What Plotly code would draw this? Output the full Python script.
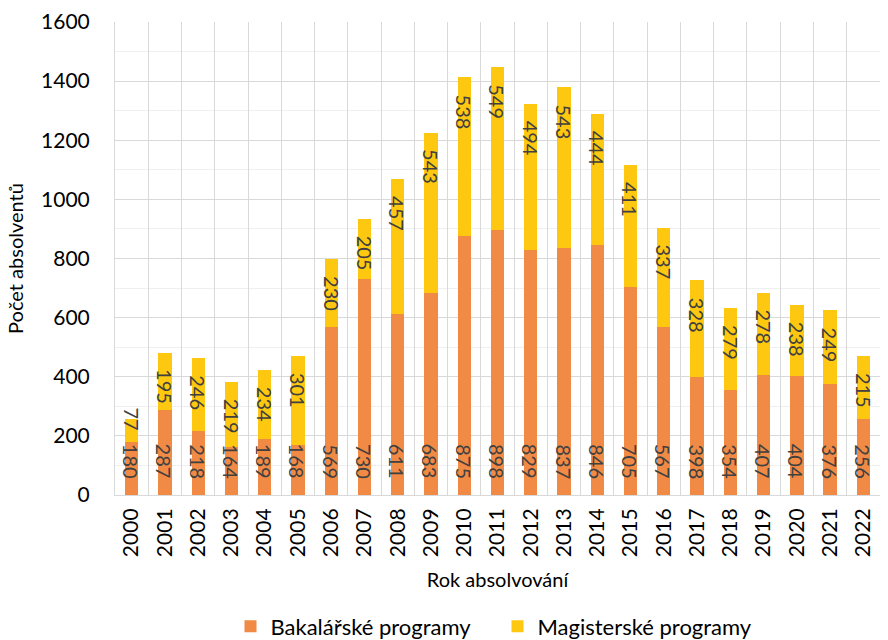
import plotly.graph_objects as go

years = [str(y) for y in range(2000, 2023)]
bakalarske = [180, 287, 218, 164, 189, 168, 569, 730, 611, 683, 875, 898,
              829, 837, 846, 705, 567, 398, 354, 407, 404, 376, 256]
magisterske = [77, 195, 246, 219, 234, 301, 230, 205, 457, 543, 538, 549,
               494, 543, 444, 411, 337, 328, 279, 278, 238, 249, 215]

FONT = "Lato"
TXT = "#404040"
LABEL_SIZE = 20
Y_MAX = 1600
PLOT_H = 640 - 22 - 145          # plot area height in px
PAD_BASE = 14                     # gap between bar base and lower label, px
PAD_END = 15                      # gap between bar end and upper label, px

fig = go.Figure()
fig.add_trace(go.Bar(
    x=years, y=bakalarske, name="Bakalářské programy",
    marker=dict(color="#F08A45", line=dict(width=0)),
))
fig.add_trace(go.Bar(
    x=years, y=magisterske, name="Magisterské programy",
    marker=dict(color="#FFC810", line=dict(width=0)),
))

# value labels, rotated, near the base of the lower segment and the end of the upper one
annotations = []
for i, (b, m) in enumerate(zip(bakalarske, magisterske)):
    annotations.append(dict(
        x=i, y=0, xref="x", yref="y", text=str(b), showarrow=False,
        textangle=90, yanchor="bottom", yshift=PAD_BASE,
        font=dict(family=FONT, size=LABEL_SIZE, color=TXT),
    ))
    seg_px = m * PLOT_H / Y_MAX
    label_px = len(str(m)) * 0.53 * LABEL_SIZE
    if seg_px >= label_px + PAD_END:
        annotations.append(dict(
            x=i, y=b + m, xref="x", yref="y", text=str(m), showarrow=False,
            textangle=90, yanchor="top", yshift=-PAD_END,
            font=dict(family=FONT, size=LABEL_SIZE, color=TXT),
        ))
    else:
        # too short for the label: centre it on the bar end
        annotations.append(dict(
            x=i, y=b + m, xref="x", yref="y", text=str(m), showarrow=False,
            textangle=90, yanchor="middle",
            font=dict(family=FONT, size=LABEL_SIZE, color=TXT),
        ))

fig.update_layout(
    barmode="stack", bargap=0.6,
    width=888, height=640,
    margin=dict(l=115, r=8, t=22, b=145, autoexpand=False),
    paper_bgcolor="white", plot_bgcolor="white",
    font=dict(family=FONT, size=20, color="#000000"),
    annotations=annotations,
    showlegend=True,
    legend=dict(orientation="h", traceorder="normal",
                x=0.5, xanchor="center", y=-0.278, yanchor="middle",
                font=dict(family=FONT, size=22, color="#000000"),
                entrywidth=222, itemwidth=30),
    xaxis=dict(
        type="category", tickangle=-90, tickson="boundaries",
        range=[-0.5, len(years) - 0.5],
        showgrid=True, gridcolor="#D9D9D9", gridwidth=1,
        ticks="", showline=True, linecolor="#D9D9D9",
        ticklabelstandoff=4,
        tickfont=dict(family=FONT, size=21, color="#000000"),
        title=dict(text="Rok absolvování", standoff=16,
                   font=dict(family=FONT, size=20, color="#000000")),
    ),
    yaxis=dict(
        range=[0, Y_MAX], dtick=200, tick0=0,
        showgrid=True, gridcolor="#D9D9D9", gridwidth=1,
        minor=dict(dtick=100, showgrid=True, gridcolor="#EFEFEF", gridwidth=1),
        zeroline=False, showline=True, linecolor="#D9D9D9",
        ticks="", ticklabelstandoff=20,
        tickfont=dict(family=FONT, size=21, color="#000000"),
        title=dict(text="Počet absolventů", standoff=12,
                   font=dict(family=FONT, size=20, color="#000000")),
    ),
)

fig.write_html("out.html")
